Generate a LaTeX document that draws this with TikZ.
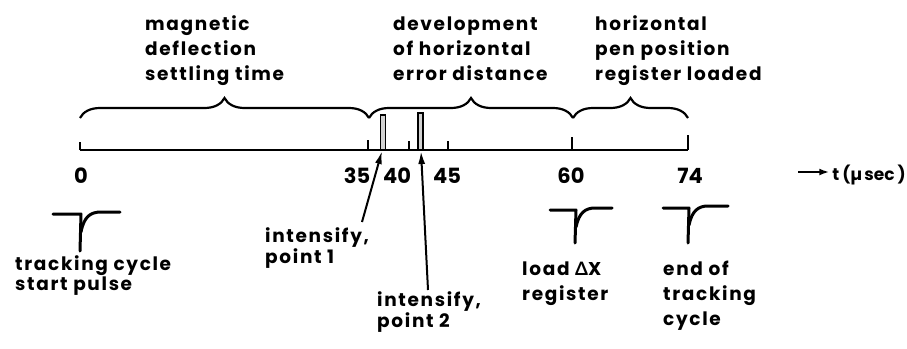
\documentclass[tikz,border=0pt]{standalone}
\usepackage{fontspec}
\setmainfont{Poppins}[BoldFont={* Bold},LetterSpace=9]
\newfontfamily\greekfont{Lato}[LetterSpace=9]
\newfontfamily\plainfont{Poppins}[BoldFont={* Bold}]
\usetikzlibrary{decorations.pathreplacing,arrows.meta}
\tikzset{
  lbl/.style={anchor=base west,align=left,inner sep=0pt,font=\fontsize{18.5}{25}\selectfont\bfseries},
  num/.style={anchor=base,inner sep=0pt,font=\fontsize{21}{25}\selectfont\plainfont\bfseries},
  axisline/.style={line width=2.4pt},
  tickline/.style={line width=2pt},
  bracepath/.style={line width=2.2pt,decorate,decoration={brace,amplitude=20pt}},
  pulse/.style={line width=3pt,line cap=round,line join=round},
  bar/.style={line width=1.8pt,fill=gray!35},
  ptr/.style={line width=2pt,-{Latex[length=13pt,width=7pt]}}
}
\begin{document}
\begin{tikzpicture}[x=1pt,y=-1pt]
\useasboundingbox (0,0) rectangle (907,348);
% top labels (anchor at baseline of last line)
\node[lbl] (l1) at (145,80) {magnetic\\deflection\\settling time};
\node[lbl] (l2) at (393,80) {development\\of horizontal\\error distance};
\node[lbl] (l3) at (595,80) {horizontal\\pen position\\register loaded};
% braces
\coordinate (b0) at (80,118);
\coordinate (b35) at (369,118);
\coordinate (b60) at (573,118);
\coordinate (b74) at (688,118);
\draw[bracepath] (b0) -- (b35);
\draw[bracepath] (b35) -- (b60);
\draw[bracepath] (b60) -- (b74);
% axis
\coordinate (a0) at (80,150);
\coordinate (a74) at (688,150);
\draw[axisline] (a0) -- (a74);
\draw[tickline] (80,150) -- (80,142);
\draw[tickline] (368,150) -- (368,140);
\draw[tickline] (409,150) -- (409,141);
\draw[tickline] (448,150) -- (448,141);
\draw[tickline] (572,150) -- (572,137);
\draw[tickline] (688,150) -- (688,135);
% intensify bars
\draw[bar] (380.5,150) rectangle (385.5,115);
\draw[bar] (418,150) rectangle (423,113);
% numbers
\node[num] (n0) at (81,183) {0};
\node[num] (n35) at (357,183) {35};
\node[num] (n40) at (397,183) {40};
\node[num] (n45) at (447,183) {45};
\node[num] (n60) at (571,183) {60};
\node[num] (n74) at (690,183) {74};
% time arrow
\coordinate (ts) at (798,172);
\node[anchor=base east,inner sep=0pt,font=\fontsize{17}{25}\selectfont\plainfont\bfseries] (tl) at (906,180) {t\hspace{3pt}(µ\hspace{2pt}sec\hspace{3pt})};
\draw[line width=2pt,-{Latex[length=10pt,width=7pt]}] (ts) -- ([xshift=-3pt]tl.west |- ts);
% pulses
\draw[pulse] (53,214) -- (81,214) -- (80,251);
\draw[pulse] (81,232) .. controls (84,217) and (90,212) .. (101,212) -- (120,212);
\draw[pulse] (550,210) -- (576,210) -- (575,243);
\draw[pulse] (576,227) .. controls (579,213) and (585,208) .. (595,208) -- (612,208);
\draw[pulse] (663,208) -- (689,208) -- (688,243);
\draw[pulse] (689,225) .. controls (692,211) and (698,206) .. (708,206) -- (728,206);
% bottom labels
\node[lbl,font=\fontsize{18.5}{15}\selectfont\bfseries] (p1) at (15,290) {tracking cycle\\start pulse};
\node[lbl,font=\fontsize{18.5}{19}\selectfont\bfseries] (i1) at (265,263) {intensify,\\point 1};
\node[lbl,font=\fontsize{18.5}{19}\selectfont\bfseries] (i2) at (377,327) {intensify,\\point 2};
\node[lbl] (p2) at (522,300) {load {\greekfont\bfseries Δ}X\\register};
\node[lbl] (p3) at (663,325) {end of\\tracking\\cycle};
% pointers
\coordinate (t1) at (382,151);
\coordinate (t2) at (421,151);
\coordinate (s1) at (362,222);
\coordinate (s2) at (428,290);
\draw[ptr] (s1) -- (t1);
\draw[ptr] (s2) -- (t2);
\end{tikzpicture}
\end{document}
